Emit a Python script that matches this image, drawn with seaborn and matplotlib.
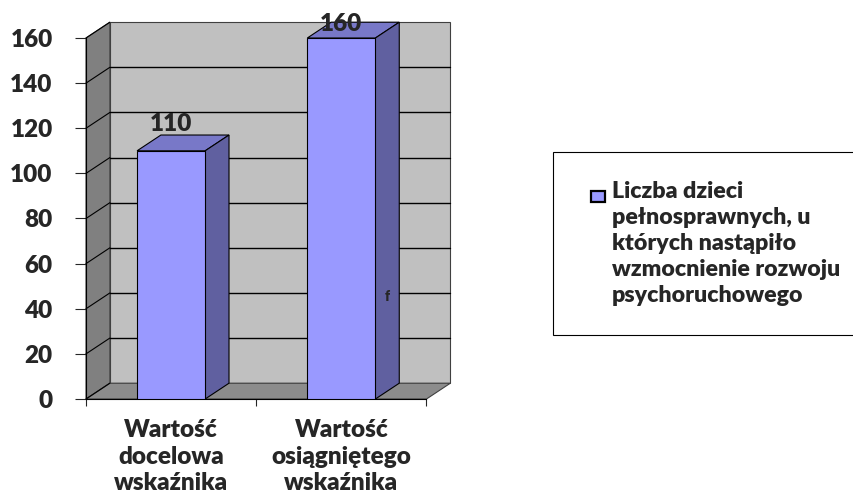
import numpy as np
import pandas as pd
import matplotlib.pyplot as plt
import seaborn as sns
from matplotlib.patches import Polygon, Rectangle
from matplotlib.legend_handler import HandlerPatch

# ___________ data ___________
categories = ["Wartość\ndocelowa\nwskaźnika", "Wartość\nosiągniętego\nwskaźnika"]
values = [110, 160]
y_ticks = [0, 20, 40, 60, 80, 100, 120, 140, 160]
legend_label = "Liczba dzieci\npełnosprawnych, u\nktórych nastąpiło\nwzmocnienie rozwoju\npsychoruchowego"

df = pd.DataFrame({"kategoria": categories, "wartosc": values})

sns.set_style("white")
plt.rcParams["font.family"] = ["Lato", "DejaVu Sans"]
FW = 800   # heavy, closer to the look of the original
FS = 17.5

fig = plt.figure(figsize=(8.54, 4.92), dpi=100)
ax = fig.add_axes([86 / 854, 93 / 492, 340.5 / 854, 361 / 492])

# front faces of the bars
sns.barplot(data=df, x="kategoria", y="wartosc", color="#9999ff", width=0.4,
            edgecolor="black", linewidth=0.8, saturation=1, ax=ax, zorder=3)
bars = list(ax.patches)

# depth of the fake 3d box (data units)
dx, dy = 0.14, 7.0
x0, x1 = -0.5, 1.5
ymax = y_ticks[-1]

# walls and floor
back = Polygon([(x0 + dx, dy), (x1 + dx, dy), (x1 + dx, ymax + dy), (x0 + dx, ymax + dy)],
               closed=True, facecolor="#c0c0c0", edgecolor="#404040", lw=0.8, clip_on=False, zorder=0)
side = Polygon([(x0, 0), (x0 + dx, dy), (x0 + dx, ymax + dy), (x0, ymax)],
               closed=True, facecolor="#808080", edgecolor="#404040", lw=0.8, clip_on=False, zorder=0)
floor = Polygon([(x0, 0), (x1, 0), (x1 + dx, dy), (x0 + dx, dy)],
                closed=True, facecolor="#8c8c8c", edgecolor="#404040", lw=0.8, clip_on=False, zorder=0)
for p in (back, side, floor):
    ax.add_patch(p)

# gridlines on the back wall and the left wall
for t in y_ticks[1:-1]:
    ax.plot([x0 + dx, x1 + dx], [t + dy, t + dy], color="black", lw=1.0, clip_on=False, zorder=1)
for t in y_ticks:
    ax.plot([x0, x0 + dx], [t, t + dy], color="black", lw=0.8, clip_on=False, zorder=1)

# top and side faces of the bars + value labels
for bar, v in zip(bars, values):
    bx0 = bar.get_x()
    bx1 = bx0 + bar.get_width()
    h = bar.get_height()
    top = Polygon([(bx0, h), (bx0 + dx, h + dy), (bx1 + dx, h + dy), (bx1, h)], closed=True,
                  facecolor="#7878c8", edgecolor="black", lw=0.8, clip_on=False, zorder=2)
    rside = Polygon([(bx1, 0), (bx1 + dx, dy), (bx1 + dx, h + dy), (bx1, h)], closed=True,
                    facecolor="#6060a0", edgecolor="black", lw=0.8, clip_on=False, zorder=2)
    ax.add_patch(top)
    ax.add_patch(rside)
    # label sits above the bar, but is kept inside the top of the box
    ax.text(bx0 + bar.get_width() / 2, min(h + 12, ymax + 6), str(v), ha="center", va="center",
            fontsize=FS, fontweight=FW, zorder=5, clip_on=False)

# stray label from the original
ax.text(1.267, 45.6, "f", ha="center", va="center", fontsize=10, fontweight=FW, zorder=5)

ax.set_xlim(x0, x1)
ax.set_ylim(0, ymax)
ax.set_yticks(y_ticks)
ax.set_xlabel("")
ax.set_ylabel("")
ax.set_xticks([-0.5, 0.5, 1.5], minor=True)
ax.tick_params(axis="x", which="major", length=0, pad=14.5, labelsize=FS)
ax.tick_params(axis="x", which="minor", length=5, width=0.8, direction="out", bottom=True)
ax.tick_params(axis="y", length=8, width=0.8, direction="out", labelsize=FS, pad=16, left=True)
for lab in ax.get_xticklabels():
    lab.set_fontweight(FW)
    lab.set_linespacing(1.25)
for lab in ax.get_yticklabels():
    lab.set_fontweight(FW)
for s in ("top", "right"):
    ax.spines[s].set_visible(False)
for s in ("left", "bottom"):
    ax.spines[s].set_color("black")
    ax.spines[s].set_linewidth(0.8)
ax.patch.set_visible(False)


# legend square sits next to the first line of the label
def top_square(legend, orig_handle, xdescent, ydescent, width, height, fontsize):
    sq_w = 0.62 * fontsize
    sq_h = 0.45 * fontsize
    return Rectangle((-xdescent + width - sq_w, -ydescent + height - sq_h + 0.45 * fontsize), sq_w, sq_h)


LFS = 16.7
leg = ax.legend(handles=[bars[0]], labels=[legend_label], loc="upper left",
                bbox_to_anchor=(553 / 854, 1 - 152 / 492), bbox_transform=fig.transFigure,
                borderaxespad=0, fancybox=False, framealpha=1, edgecolor="black",
                prop={"size": LFS, "weight": FW}, handlelength=1.0, handleheight=5.6,
                handletextpad=0.3, borderpad=1.25,
                handler_map={Rectangle: HandlerPatch(patch_func=top_square)})
leg.get_frame().set_linewidth(0.8)
for t in leg.get_texts():
    t.set_linespacing(1.3)
for h in leg.legend_handles:
    h.set_linewidth(1.6)

plt.savefig("out.png", dpi=100)
